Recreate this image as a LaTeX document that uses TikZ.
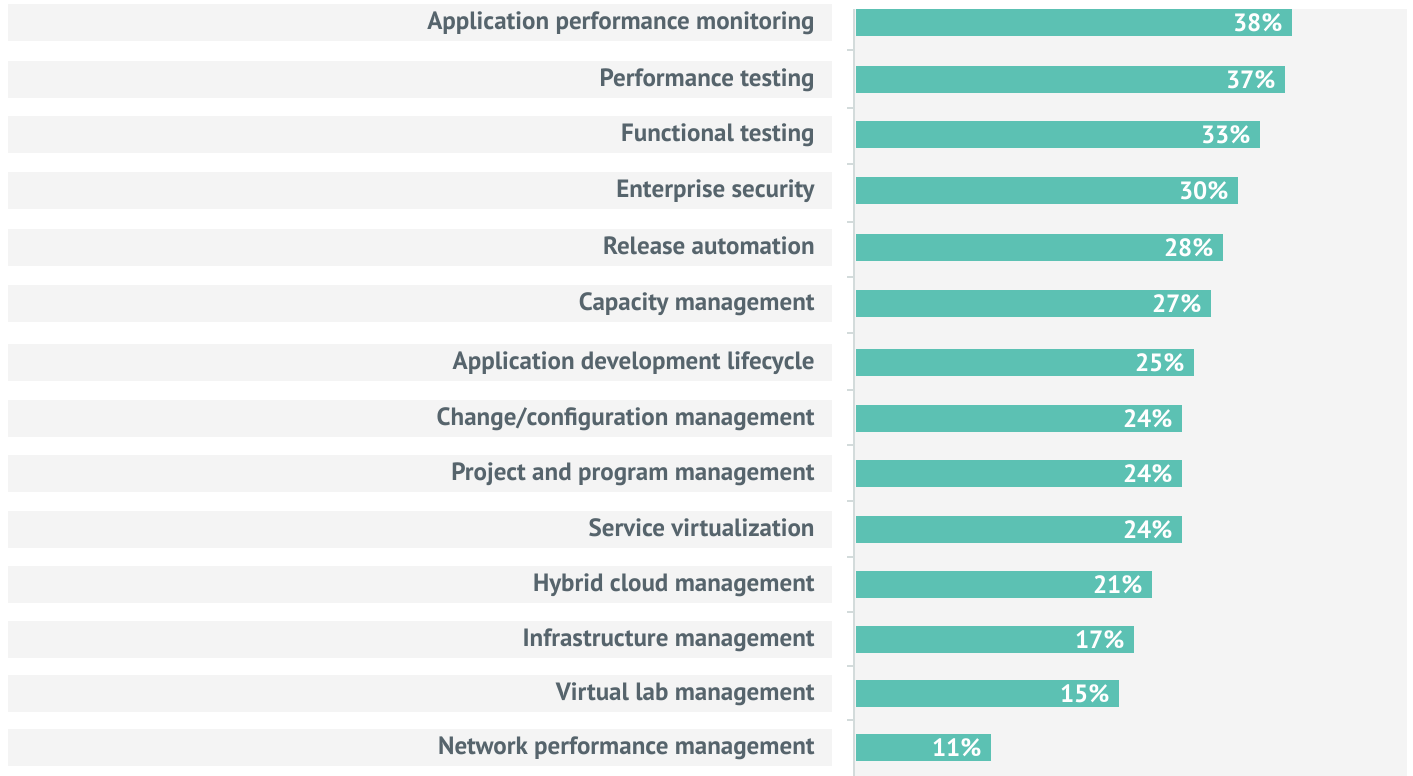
\documentclass[tikz,border=0pt]{standalone}
\usepackage{fontspec}
\setmainfont{PT Sans}
\definecolor{barre}{HTML}{5CC1B3}
\definecolor{bande}{HTML}{F4F4F4}
\definecolor{texte}{HTML}{56646C}
\definecolor{axe}{HTML}{D3DBDB}
\tikzset{
  fondbande/.style={fill=bande, inner sep=0, minimum width=412pt, minimum height=18.5pt, anchor=west},
  etiquette/.style={text=texte, font=\bfseries\fontsize{12.5}{14}\selectfont, inner sep=0, anchor=base east},
  barrette/.style={fill=barre, inner sep=0, minimum height=13.5pt, anchor=west},
  pct/.style={text=white, font=\bfseries\fontsize{12.5}{14}\selectfont, inner sep=0, anchor=east}
}
\begin{document}
\begin{tikzpicture}[x=0.5pt,y=-0.5pt] % une unité = un pixel, y vers le bas
\useasboundingbox (0,0) rectangle (1413,776);
\fill[bande] (855,9) rectangle (1407,776);

\foreach \y/\lab/\fin/\p [count=\i] in {
  22.5/Application performance monitoring/1292/38,
  79.5/Performance testing/1285/37,
  134.5/Functional testing/1260/33,
  190.5/Enterprise security/1238/30,
  247.5/Release automation/1223/28,
  303.5/Capacity management/1211/27,
  362.5/Application development lifecycle/1194/25,
  418.5/{Change/configuration management}/1182/24,
  473.5/Project and program management/1182/24,
  529.5/Service virtualization/1182/24,
  584.5/Hybrid cloud management/1152/21,
  639.5/Infrastructure management/1134/17,
  693.5/Virtual lab management/1119/15,
  747.5/Network performance management/991/11}{
  \node[fondbande] (bande\i) at (8,\y) {};
  \node[etiquette] (lab\i) at (815,\y+7) {\lab};
  \node[barrette, minimum width={(\fin-856)*0.5pt}] (bar\i) at (856,\y) {};
  \node[pct] (pct\i) at ([xshift=-5pt]bar\i.east) {\p\%};
}

\draw[axe, line width=1pt] (854,9) -- (854,776);
\foreach \t in {50,108,164,222,277,333,390,445,501,557,612,666,720}
  \draw[axe, line width=1pt] (847,\t) -- (854,\t);
\end{tikzpicture}
\end{document}
